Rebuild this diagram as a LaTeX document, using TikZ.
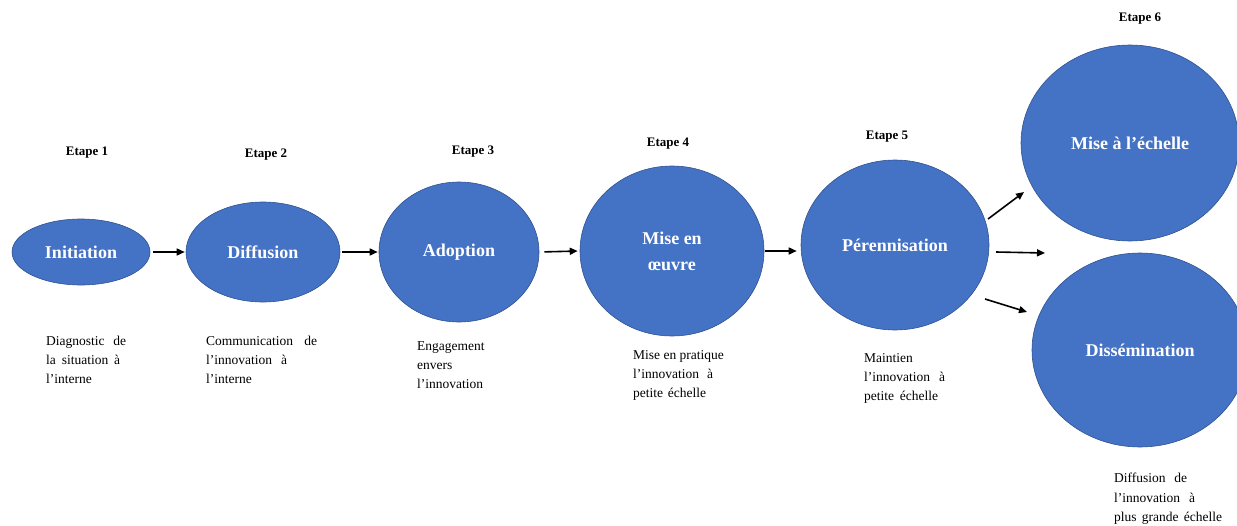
\documentclass[tikz,border=0pt]{standalone}
\usepackage{fontspec}
\setmainfont{Liberation Serif}
\usetikzlibrary{shapes.geometric,arrows.meta}
\definecolor{stageblue}{HTML}{4472C4}
\definecolor{stageedge}{HTML}{2F528F}
\begin{document}
\begin{tikzpicture}[x=1pt,y=-1pt,
  stage/.style={ellipse, fill=stageblue, draw=stageedge, line width=0.6pt,
    inner sep=0pt, text=white, align=center,
    font=\fontsize{18}{26}\selectfont\bfseries},
  etape/.style={inner sep=0pt, font=\fontsize{13}{15}\selectfont\bfseries},
  desc/.style={inner sep=0pt, anchor=north west, align=left,
    font=\fontsize{13.5}{19.3}\selectfont},
  flow/.style={line width=1.6pt, -{Triangle[length=8pt,width=7pt]}}]
\clip (0,0) rectangle (1237,525);

% process stages
\node[stage, minimum width=138, minimum height=66]  (n1) at (81,252)  {Initiation};
\node[stage, minimum width=154, minimum height=100] (n2) at (263,252) {Diffusion};
\node[stage, minimum width=160, minimum height=140] (n3) at (459,252) {Adoption};
\node[stage, minimum width=184, minimum height=170] (n4) at (672,251) {Mise en\\œuvre};
\node[stage, minimum width=188, minimum height=170] (n5) at (895,245) {Pérennisation};
\node[stage, minimum width=218, minimum height=196] (n6) at (1130,143) {Mise à l’échelle};
\node[stage, minimum width=216, minimum height=194] (n7) at (1140,350) {Dissémination};

% stage numbers
\node[etape] (e1) at (87,153)  {Etape 1};
\node[etape] (e2) at (266,155) {Etape 2};
\node[etape] (e3) at (473,152) {Etape 3};
\node[etape] (e4) at (668,144) {Etape 4};
\node[etape] (e5) at (887,137) {Etape 5};
\node[etape] (e6) at (1140,19) {Etape 6};

% descriptions
\node[desc] (d1) at (46,335.5) {\makebox[80pt][s]{Diagnostic de}\\\makebox[74pt][s]{la situation à}\\l’interne};
\node[desc] (d2) at (206,335.5) {\makebox[111pt][s]{Communication de}\\\makebox[81pt][s]{l’innovation à}\\l’interne};
\node[desc] (d3) at (417,341) {Engagement\\envers\\l’innovation};
\node[desc] (d4) at (633,350) {Mise en pratique\\\makebox[80pt][s]{l’innovation à}\\\makebox[73pt][s]{petite échelle}};
\node[desc] (d5) at (864,353) {Maintien\\\makebox[81pt][s]{l’innovation à}\\\makebox[74pt][s]{petite échelle}};
\node[desc] (d6) at (1114,473) {\makebox[73pt][s]{Diffusion de}\\\makebox[81pt][s]{l’innovation à}\\\makebox[108pt][s]{plus grande échelle}};

% connectors
\draw[flow, shorten <=3pt, shorten >=1pt] (n1.east) -- (n2.west);
\draw[flow, shorten <=2pt, shorten >=1pt] (n2.east) -- (n3.west);
\draw[flow, shorten <=5pt, shorten >=2pt] (n3.east) -- (n4.west);
\draw[flow, shorten <=1pt, shorten >=4pt] (n4.east) -- (n4.east -| n5.west);

\coordinate (up0) at (988,219);
\coordinate (up1) at (1024,192);
\coordinate (mid0) at (996,252);
\coordinate (mid1) at (1045,253);
\coordinate (lo0) at (985,299);
\coordinate (lo1) at (1027,312);
\draw[flow] (up0) -- (up1);
\draw[flow] (mid0) -- (mid1);
\draw[flow] (lo0) -- (lo1);
\end{tikzpicture}
\end{document}
